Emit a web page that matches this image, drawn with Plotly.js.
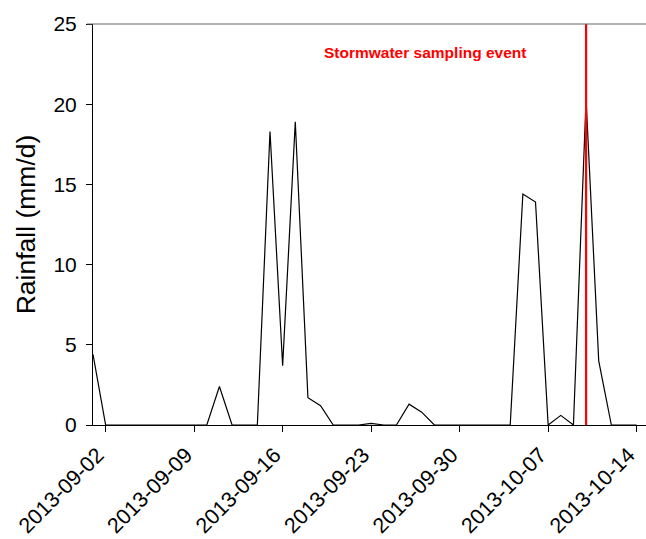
<!DOCTYPE html>
<html>
<head>
<meta charset="utf-8">
<script src="https://cdn.plot.ly/plotly-3.0.1.min.js"></script>
<style>html,body{margin:0;padding:0;background:#fff;}#chart{width:646px;height:539px;}</style>
</head>
<body>
<div id="chart"></div>
<script>
var dates = ['2013-09-01','2013-09-02','2013-09-03','2013-09-04','2013-09-05','2013-09-06','2013-09-07','2013-09-08','2013-09-09','2013-09-10',
  '2013-09-11','2013-09-12','2013-09-13','2013-09-14','2013-09-15','2013-09-16','2013-09-17','2013-09-18','2013-09-19','2013-09-20',
  '2013-09-21','2013-09-22','2013-09-23','2013-09-24','2013-09-25','2013-09-26','2013-09-27','2013-09-28','2013-09-29','2013-09-30',
  '2013-10-01','2013-10-02','2013-10-03','2013-10-04','2013-10-05','2013-10-06','2013-10-07','2013-10-08','2013-10-09','2013-10-10',
  '2013-10-11','2013-10-12','2013-10-13','2013-10-14'];
var rainfall = [4.4,0,0,0,0,0,0,0,0,0,
  2.4,0,0,0,18.3,3.7,18.9,1.7,1.2,0,
  0,0,0.1,0,0,1.3,0.8,0,0,0,
  0,0,0,0,14.4,13.9,0,0.6,0,20.3,
  4.0,0,0,0];
var eventDates = ['2013-10-10'];
var eventLabel = 'Stormwater sampling event';
var yTicks = [0,5,10,15,20,25];
var xTicks = ['2013-09-02','2013-09-09','2013-09-16','2013-09-23','2013-09-30','2013-10-07','2013-10-14'];

var font = 'Arial, "Liberation Sans", sans-serif';
var trace = {
  x: dates, y: rainfall, type: 'scatter', mode: 'lines',
  line: {color: '#000000', width: 1.2}, hoverinfo: 'x+y'
};
var shapes = eventDates.map(function(d){
  return {type:'line', xref:'x', yref:'paper', x0:d, x1:d, y0:0, y1:1,
    line:{color:'#ff0000', width:2.2}, layer:'above'};
});
shapes.push({type:'line', xref:'paper', yref:'paper', x0:-0.011, x1:1, y0:1, y1:1,
  line:{color:'#666666', width:1.2}, layer:'above'});
var layout = {
  width: 646, height: 539,
  margin: {l: 93, r: 0, t: 24, b: 113.5, pad: 0},
  paper_bgcolor: '#ffffff', plot_bgcolor: '#ffffff',
  showlegend: false,
  font: {family: font, color: '#000000', size: 20},
  xaxis: {
    type: 'date', range: ['2013-09-01', '2013-10-14 17:45'],
    tickvals: xTicks, tickformat: '%Y-%m-%d', tickangle: -45,
    ticks: 'outside', ticklen: 6, tickcolor: '#000', tickwidth: 1,
    showline: true, linecolor: '#000', linewidth: 1,
    showgrid: false, zeroline: false,
    tickfont: {family: font, size: 21.5, color: '#000'},
    ticklabelstandoff: 2, ticklabelshift: -8, ticklabeloverflow: 'allow'
  },
  yaxis: {
    range: [0, 25], tickvals: yTicks,
    ticks: 'outside', ticklen: 6, tickcolor: '#000', tickwidth: 1,
    showline: true, linecolor: '#000', linewidth: 1,
    showgrid: false, zeroline: false,
    tickfont: {family: font, size: 21, color: '#000'},
    ticklabelstandoff: 5,
    title: {text: 'Rainfall (mm/d)', font: {family: font, size: 26.5, color: '#000'}, standoff: 10},
    automargin: false
  },
  shapes: shapes,
  annotations: [{
    xref: 'x', yref: 'y', x: '2013-09-27 06:00', y: 23.2,
    text: '<b>' + eventLabel + '</b>', showarrow: false,
    xanchor: 'center', yanchor: 'middle',
    font: {family: font, size: 15.5, color: '#ff0000'}
  }]
};
Plotly.newPlot('chart', [trace], layout, {staticPlot: true, displayModeBar: false});
</script>
</body>
</html>
